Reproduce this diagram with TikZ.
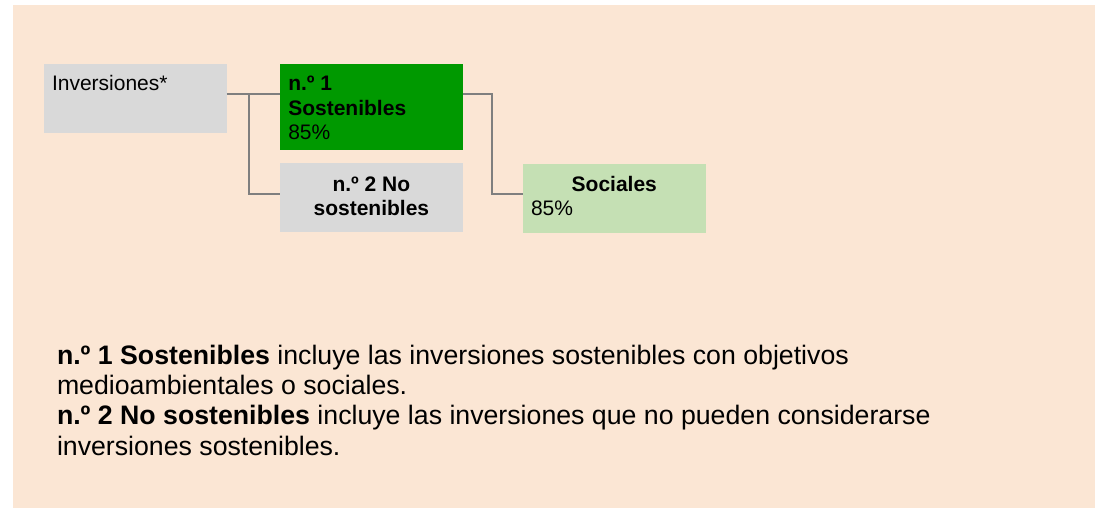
\documentclass[tikz,border=0pt]{standalone}
\usepackage{fontspec}
\setmainfont{Liberation Sans}
\definecolor{bgc}{HTML}{FBE6D4}
\definecolor{boxgrey}{HTML}{D9D9D9}
\definecolor{darkgreen}{HTML}{009900}
\definecolor{lightgreen}{HTML}{C5E0B4}
\definecolor{lineg}{HTML}{7F7F7F}
\begin{document}
\begin{tikzpicture}[x=1pt,y=-1pt,
  box/.style={draw=none, inner sep=0pt, outer sep=0pt, minimum width=182.7pt, anchor=north west},
  lbl/.style={inner sep=0pt, outer sep=0pt, font=\fontsize{21}{24.5}\selectfont},
  conn/.style={draw=lineg, line width=2pt}]
\useasboundingbox (0,0) rectangle (1095,508);
\fill[white] (0,0) rectangle (1095,508);
\fill[bgc] (13,5) rectangle (1095,508);
% boxes
\node[box, fill=boxgrey, minimum height=68.7pt] (inv) at (44,64) {};
\node[box, fill=darkgreen, minimum height=85.7pt] (n1) at (280,64) {};
\node[box, fill=boxgrey, minimum height=69pt] (n2) at (280,162.7) {};
\node[box, fill=lightgreen, minimum height=68.7pt] (soc) at (523,164) {};
% texts (base anchor = baseline of last line)
\node[lbl, anchor=base west] (invt) at (52,91) {Inversiones*};
\node[lbl, anchor=base west, align=left] (n1t) at (288.3,140) {\textbf{n.º 1}\\\textbf{Sostenibles}\\85\%};
\node[lbl, anchor=base, align=center] (n2t) at (371.4,215.7) {\textbf{n.º 2 No}\\\textbf{sostenibles}};
\node[lbl, anchor=base] (soct) at (614.3,191.7) {\textbf{Sociales}};
\node[lbl, anchor=base west] (socp) at (531,215.7) {85\%};
% connectors
\coordinate (j1) at (249.3,94);
\coordinate (j2) at (492.3,94);
\draw[conn] ([yshift=-30pt]inv.north east) -- ([yshift=-30pt]n1.north west);
\draw[conn] (j1) |- ([yshift=-31pt]n2.north west);
\draw[conn] ([yshift=-30pt]n1.north east) -| (j2) |- ([yshift=-30.3pt]soc.north west);
% bottom text
\node[inner sep=0pt, outer sep=0pt, anchor=base west, align=left,
      font=\fontsize{26.7}{30.3}\selectfont] (note) at (57,455)
  {\textbf{n.º 1 Sostenibles} incluye las inversiones sostenibles con objetivos\\
   medioambientales o sociales.\\
   \textbf{n.º 2 No sostenibles} incluye las inversiones que no pueden considerarse\\
   inversiones sostenibles.};
\end{tikzpicture}
\end{document}
